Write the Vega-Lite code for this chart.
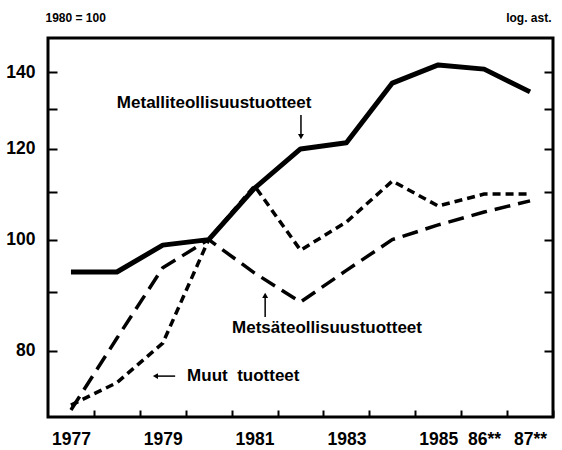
{
  "$schema": "https://vega.github.io/schema/vega-lite/v6.json",
  "width": 505,
  "height": 379,
  "autosize": "none",
  "padding": {"left": 48, "top": 38, "right": 9, "bottom": 33},
  "background": "white",
  "config": {
    "view": {"stroke": "black", "strokeWidth": 3},
    "font": "Liberation Sans"
  },
  "datasets": {
    "series": [
      {"series": "Metalli", "year": 1977, "value": 93.7},
      {"series": "Metalli", "year": 1978, "value": 93.7},
      {"series": "Metalli", "year": 1979, "value": 98.9},
      {"series": "Metalli", "year": 1980, "value": 100},
      {"series": "Metalli", "year": 1981, "value": 110.9},
      {"series": "Metalli", "year": 1982, "value": 120},
      {"series": "Metalli", "year": 1983, "value": 121.5},
      {"series": "Metalli", "year": 1984, "value": 137},
      {"series": "Metalli", "year": 1985, "value": 142.1},
      {"series": "Metalli", "year": 1986, "value": 140.9},
      {"series": "Metalli", "year": 1987, "value": 134.6},
      {"series": "Metsa", "year": 1977, "value": 71.0},
      {"series": "Metsa", "year": 1978, "value": 82},
      {"series": "Metsa", "year": 1979, "value": 94.5},
      {"series": "Metsa", "year": 1980, "value": 100},
      {"series": "Metsa", "year": 1981, "value": 93.5},
      {"series": "Metsa", "year": 1982, "value": 88.2},
      {"series": "Metsa", "year": 1983, "value": 94},
      {"series": "Metsa", "year": 1984, "value": 100},
      {"series": "Metsa", "year": 1985, "value": 103},
      {"series": "Metsa", "year": 1986, "value": 105.7},
      {"series": "Metsa", "year": 1987, "value": 108.1},
      {"series": "Muut", "year": 1977, "value": 71.7},
      {"series": "Muut", "year": 1978, "value": 75},
      {"series": "Muut", "year": 1979, "value": 81.2},
      {"series": "Muut", "year": 1980, "value": 100},
      {"series": "Muut", "year": 1981, "value": 111.4},
      {"series": "Muut", "year": 1982, "value": 97.9},
      {"series": "Muut", "year": 1983, "value": 103.6},
      {"series": "Muut", "year": 1984, "value": 112.5},
      {"series": "Muut", "year": 1985, "value": 107},
      {"series": "Muut", "year": 1986, "value": 109.6},
      {"series": "Muut", "year": 1987, "value": 109.6}
    ],
    "labels": [
      {"text": "Metalliteollisuustuotteet", "year": 1978.0, "value": 130.3},
      {"text": "Metsäteollisuustuotteet", "year": 1980.51, "value": 82.9},
      {"text": "Muut\u00a0\u00a0tuotteet", "year": 1979.53, "value": 75.2}
    ],
    "arrows": [
      {"year": 1982.01, "year2": 1982.01, "value": 128.5, "value2": 122.9},
      {"year": 1981.23, "year2": 1981.23, "value": 85.6, "value2": 89.5},
      {"year": 1979.27, "year2": 1978.83, "value": 76.0, "value2": 76.0}
    ],
    "heads": [
      {"year": 1982.01, "value": 123.0, "shape": "triangle-down"},
      {"year": 1981.23, "value": 89.4, "shape": "triangle-up"},
      {"year": 1978.84, "value": 76.0, "shape": "triangle-left"}
    ]
  },
  "resolve": {"axis": {"y": "independent"}},
  "layer": [
    {
      "data": {"name": "series"},
      "transform": [{"filter": "datum.series == 'Metalli'"}],
      "mark": {"type": "line", "color": "black", "strokeWidth": 5, "strokeJoin": "round"},
      "encoding": {
        "x": {
          "field": "year", "type": "quantitative",
          "scale": {"domain": [1976.5, 1987.5], "nice": false, "zero": false},
          "axis": {
            "values": [1977, 1978, 1979, 1980, 1981, 1982, 1983, 1984, 1985, 1986, 1987],
            "tickOffset": 22.95,
            "labelOffset": -22.95,
            "labelExpr": "datum.value == 1986 ? '86**' : datum.value == 1987 ? '87**' : (datum.value % 2 == 1 ? toString(datum.value) : '')",
            "tickSize": -7,
            "tickWidth": 2,
            "tickColor": "black",
            "labelPadding": 20,
            "labelFont": "Liberation Sans",
            "labelFontSize": 17.5,
            "labelFontWeight": "bold",
            "labelColor": "black",
            "labelOverlap": false,
            "labelFlush": false,
            "domain": false,
            "grid": false,
            "title": null
          }
        },
        "y": {
          "field": "value", "type": "quantitative",
          "scale": {"type": "log", "domain": [70, 150], "nice": false},
          "axis": {
            "orient": "left",
            "values": [80, 90, 100, 110, 120, 130, 140],
            "labelExpr": "datum.value % 20 == 0 ? toString(datum.value) : ''",
            "tickSize": -9,
            "tickWidth": 2,
            "tickColor": "black",
            "labelPadding": 22,
            "labelFont": "Liberation Sans",
            "labelFontSize": 17.5,
            "labelFontWeight": "bold",
            "labelColor": "black",
            "labelOverlap": false,
            "labelFlush": false,
            "domain": false,
            "grid": false,
            "title": "1980 = 100",
            "titleAngle": 0,
            "titleAlign": "left",
            "titleBaseline": "alphabetic",
            "titleX": -3,
            "titleY": -17,
            "titleFont": "Liberation Sans",
            "titleFontSize": 12,
            "titleFontWeight": "bold",
            "titleColor": "black"
          }
        }
      }
    },
    {
      "data": {"name": "series"},
      "transform": [{"filter": "datum.series == 'Metsa'"}],
      "mark": {"type": "line", "color": "black", "strokeWidth": 3.5, "strokeDash": [16, 8]},
      "encoding": {
        "x": {"field": "year", "type": "quantitative"},
        "y": {"field": "value", "type": "quantitative", "axis": null}
      }
    },
    {
      "data": {"name": "series"},
      "transform": [{"filter": "datum.series == 'Muut'"}],
      "mark": {"type": "line", "color": "black", "strokeWidth": 3.5, "strokeDash": [8, 5]},
      "encoding": {
        "x": {"field": "year", "type": "quantitative"},
        "y": {"field": "value", "type": "quantitative", "axis": null}
      }
    },
    {
      "mark": {"type": "rule", "color": "black", "strokeWidth": 1.5},
      "encoding": {
        "y": {
          "datum": 100, "type": "quantitative",
          "axis": {
            "orient": "right",
            "values": [80, 90, 100, 110, 120, 130, 140],
            "labels": false,
            "tickSize": -9,
            "tickWidth": 2,
            "tickColor": "black",
            "domain": false,
            "grid": false,
            "title": "log. ast.",
            "titleAngle": 0,
            "titleAlign": "right",
            "titleBaseline": "alphabetic",
            "titleX": -2,
            "titleY": -17,
            "titleFont": "Liberation Sans",
            "titleFontSize": 12,
            "titleFontWeight": "bold",
            "titleColor": "black"
          }
        }
      }
    },
    {
      "data": {"name": "labels"},
      "mark": {"type": "text", "align": "left", "baseline": "alphabetic", "font": "Liberation Sans", "fontSize": 17, "fontWeight": "bold", "color": "black"},
      "encoding": {
        "x": {"field": "year", "type": "quantitative"},
        "y": {"field": "value", "type": "quantitative", "axis": null},
        "text": {"field": "text"}
      }
    },
    {
      "data": {"name": "arrows"},
      "mark": {"type": "rule", "color": "black", "strokeWidth": 1.5},
      "encoding": {
        "x": {"field": "year", "type": "quantitative"},
        "x2": {"field": "year2"},
        "y": {"field": "value", "type": "quantitative", "axis": null},
        "y2": {"field": "value2"}
      }
    },
    {
      "data": {"name": "heads"},
      "mark": {"type": "point", "filled": true, "color": "black", "size": 35, "opacity": 1},
      "encoding": {
        "x": {"field": "year", "type": "quantitative"},
        "y": {"field": "value", "type": "quantitative", "axis": null},
        "shape": {"field": "shape", "type": "nominal", "scale": null}
      }
    }
  ]
}
